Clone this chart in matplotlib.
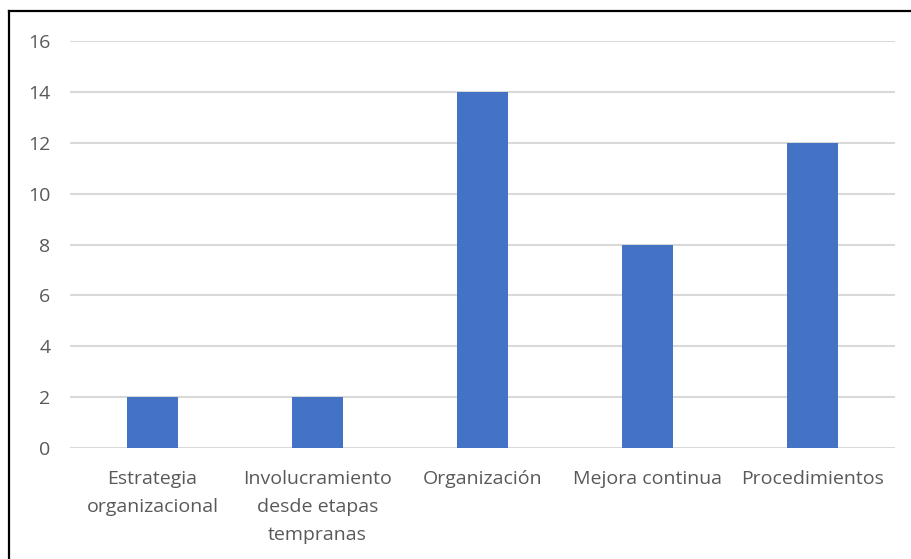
import matplotlib.pyplot as plt
from matplotlib.lines import Line2D

categories = ["Estrategia\norganizacional", "Involucramiento\ndesde etapas\ntempranas",
              "Organización", "Mejora continua", "Procedimientos"]
values = [2, 2, 14, 8, 12]
yticks = [0, 2, 4, 6, 8, 10, 12, 14, 16]

plt.rcParams['font.family'] = ['Open Sans', 'DejaVu Sans']

fig = plt.figure(figsize=(9.12, 5.59), dpi=100)
ax = fig.add_axes([70 / 912, 111 / 559, 825 / 912, 407 / 559])

x = range(len(categories))
ax.bar(x, values, width=0.31, color='#4472C4', zorder=3)

ax.set_xlim(-0.5, len(categories) - 0.5)
ax.set_ylim(0, 16)
ax.set_yticks(yticks)
ax.set_xticks(list(x))
ax.set_xticklabels(categories, linespacing=1.7)

ax.grid(axis='y', color='#D9D9D9', linewidth=1.5, zorder=0)
for s in ax.spines.values():
    s.set_visible(False)
ax.tick_params(axis='both', length=0, labelsize=14, labelcolor='#595959')
ax.tick_params(axis='y', pad=14)
ax.tick_params(axis='x', pad=16)

# outer frame, cut at the right and bottom edges
fig.add_artist(Line2D([9 / 912, 1.01], [1 - 11 / 559] * 2, transform=fig.transFigure,
                      color='black', linewidth=1.6))
fig.add_artist(Line2D([9 / 912] * 2, [-0.01, 1 - 11 / 559], transform=fig.transFigure,
                      color='black', linewidth=1.6))

fig.savefig('out.png', dpi=100, facecolor='white')
